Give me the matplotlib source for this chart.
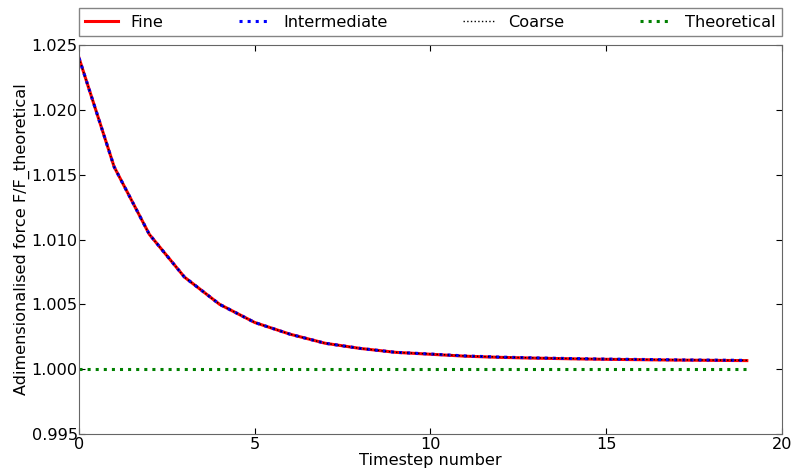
import matplotlib
matplotlib.use('Agg')
import matplotlib.pyplot as plt

# force ratio per timestep for each mesh resolution
timestep = list(range(20))
fine = [1.0240, 1.0156, 1.0104, 1.0071, 1.0050, 1.0036, 1.0027, 1.0020, 1.0016, 1.0013,
        1.00115, 1.00100, 1.00091, 1.00085, 1.00080, 1.00076, 1.00073, 1.00070, 1.00068, 1.00066]
intermediate = [1.0240, 1.0156, 1.0104, 1.0071, 1.0050, 1.0036, 1.0027, 1.0020, 1.0016, 1.0013,
                1.00117, 1.00102, 1.00093, 1.00087, 1.00082, 1.00078, 1.00075, 1.00072, 1.00070, 1.00068]
coarse = [1.0240, 1.0156, 1.0104, 1.0071, 1.0050, 1.0036, 1.0027, 1.0020, 1.0016, 1.0013,
          1.00117, 1.00102, 1.00093, 1.00087, 1.00082, 1.00078, 1.00075, 1.00072, 1.00070, 1.00068]
theoretical = [1.0] * 20

plt.rcParams['font.family'] = 'DejaVu Sans'
plt.rcParams['font.size'] = 11.6

fig, ax = plt.subplots(figsize=(7.95, 4.74), dpi=100)
fig.subplots_adjust(left=0.0994, right=0.9836, top=0.905, bottom=0.0844)

ax.plot(timestep, fine, color='red', linewidth=2.2, label='Fine')
ax.plot(timestep, intermediate, color='blue', linestyle=':', linewidth=2.2, label='Intermediate')
ax.plot(timestep, coarse, color='black', linestyle=':', linewidth=1, label='Coarse')
ax.plot(timestep, theoretical, color='green', linestyle=':', linewidth=2.2, label='Theoretical')

ax.set_xlim(0, 20)
ax.set_ylim(0.995, 1.025)
ax.set_xticks([0, 5, 10, 15, 20])
ax.set_yticks([0.995, 1.000, 1.005, 1.010, 1.015, 1.020, 1.025])
ax.set_yticklabels(['0.995', '1.000', '1.005', '1.010', '1.015', '1.020', '1.025'])
ax.tick_params(direction='in', top=True, right=True, length=4, labelsize=11.6)
ax.tick_params(axis='x', pad=2)
ax.tick_params(axis='y', pad=1)
for s in ax.spines.values():
    s.set_color('0.4')

ax.set_xlabel('Timestep number', labelpad=1)
ax.set_ylabel('Adimensionalised force F/F_theoretical', labelpad=1)

leg = ax.legend(bbox_to_anchor=(0., 1.023, 1., .102), loc=3, ncol=4, mode='expand',
                borderaxespad=0., fancybox=False, fontsize=11.6)
leg.get_frame().set_edgecolor('0.4')

fig.savefig('out.png', dpi=100)
